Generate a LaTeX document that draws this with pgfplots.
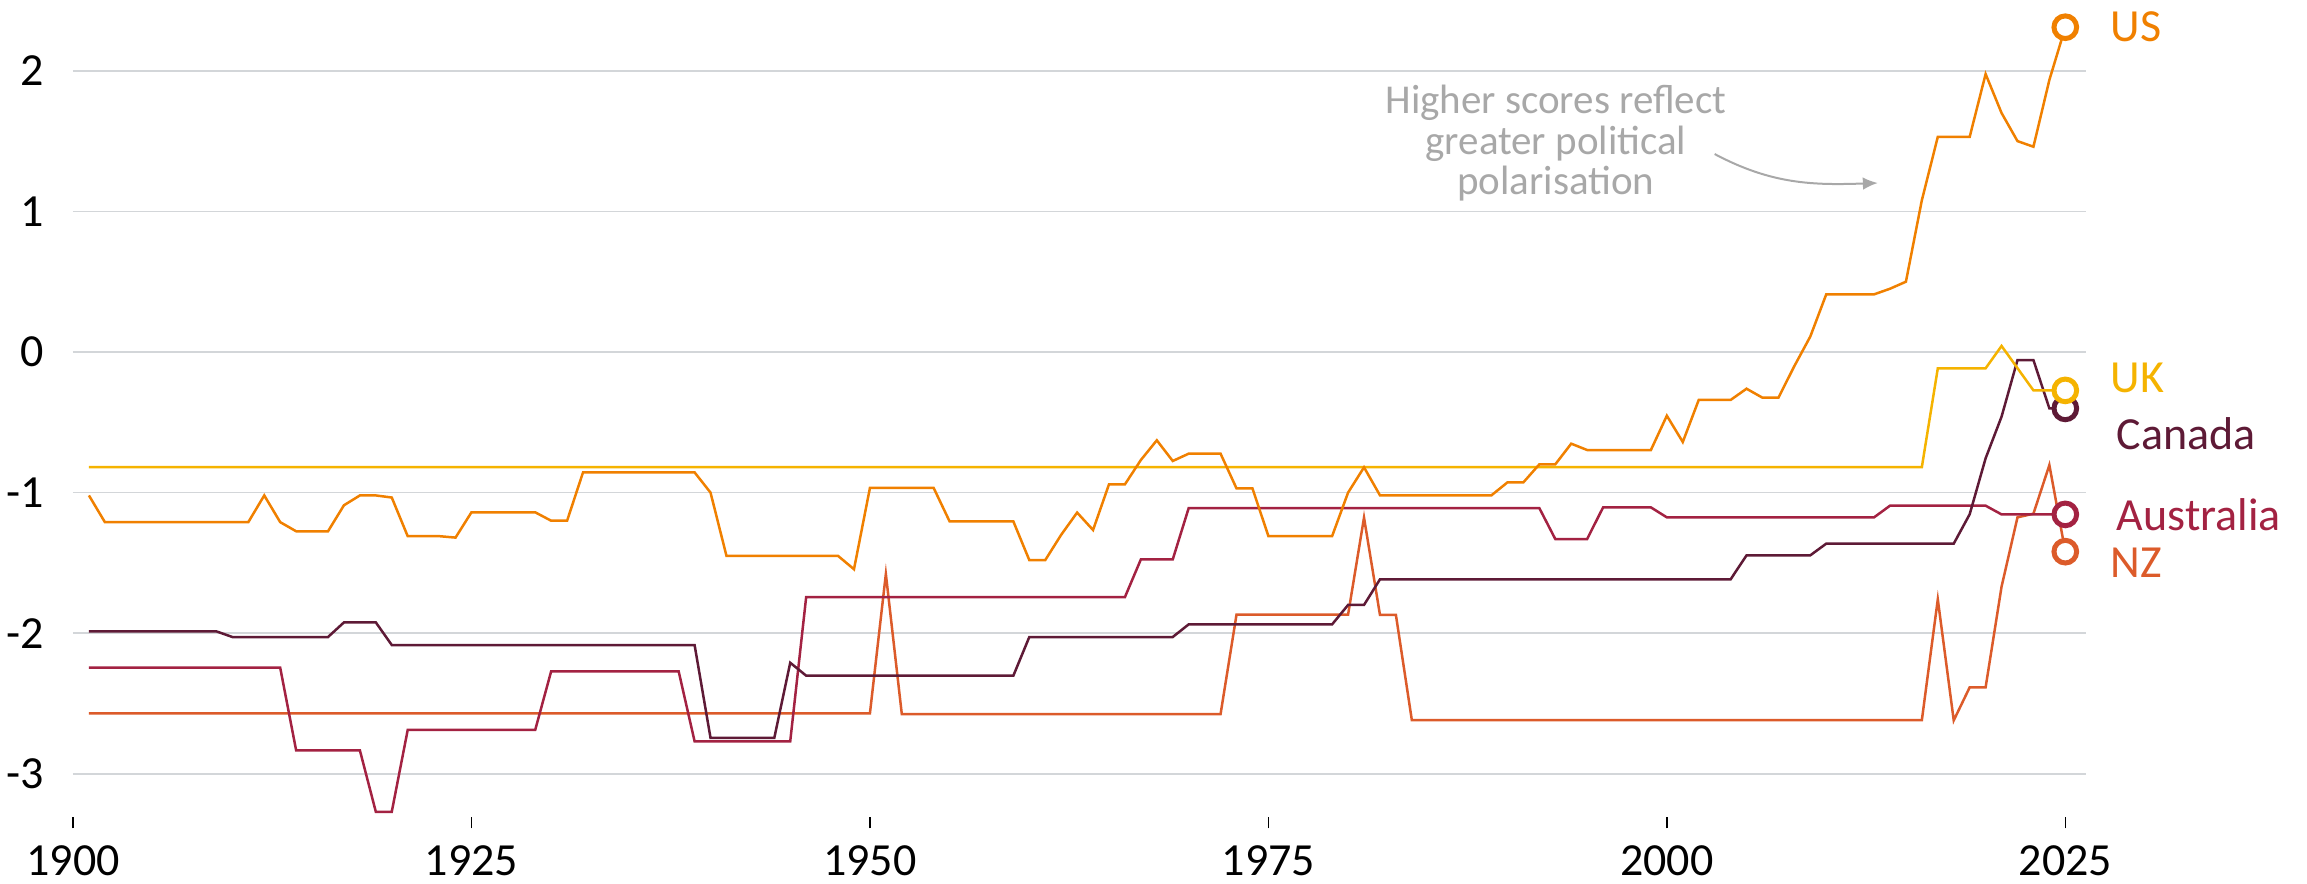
\documentclass[border=0pt]{standalone}
\usepackage{fontspec}
\setmainfont{Carlito}
\usepackage{pgfplots}
\pgfplotsset{compat=1.18}
\usepackage{pgfplotstable}
\usetikzlibrary{arrows.meta}

\definecolor{usc}{HTML}{F08000}
\definecolor{ukc}{HTML}{F5B300}
\definecolor{cac}{HTML}{5E1A36}
\definecolor{auc}{HTML}{A32242}
\definecolor{nzc}{HTML}{DC5B2A}
\definecolor{notec}{HTML}{A8A8A8}
\definecolor{gridc}{HTML}{D3D6D9}

% polarisation scores by year
\pgfplotstableread{
year us uk ca au nz
1901 -1.02 -0.818 -1.987 -2.245 -2.570
1902 -1.21 -0.818 -1.987 -2.245 -2.570
1903 -1.21 -0.818 -1.987 -2.245 -2.570
1904 -1.21 -0.818 -1.987 -2.245 -2.570
1905 -1.21 -0.818 -1.987 -2.245 -2.570
1906 -1.21 -0.818 -1.987 -2.245 -2.570
1907 -1.21 -0.818 -1.987 -2.245 -2.570
1908 -1.21 -0.818 -1.987 -2.245 -2.570
1909 -1.21 -0.818 -1.987 -2.245 -2.570
1910 -1.21 -0.818 -2.027 -2.245 -2.570
1911 -1.21 -0.818 -2.027 -2.245 -2.570
1912 -1.02 -0.818 -2.027 -2.245 -2.570
1913 -1.21 -0.818 -2.027 -2.245 -2.570
1914 -1.275 -0.818 -2.027 -2.833 -2.570
1915 -1.275 -0.818 -2.027 -2.833 -2.570
1916 -1.275 -0.818 -2.027 -2.833 -2.570
1917 -1.09 -0.818 -1.923 -2.833 -2.570
1918 -1.02 -0.818 -1.923 -2.833 -2.570
1919 -1.02 -0.818 -1.923 -3.27 -2.570
1920 -1.035 -0.818 -2.084 -3.27 -2.570
1921 -1.31 -0.818 -2.084 -2.688 -2.570
1922 -1.31 -0.818 -2.084 -2.688 -2.570
1923 -1.31 -0.818 -2.084 -2.688 -2.570
1924 -1.32 -0.818 -2.084 -2.688 -2.570
1925 -1.14 -0.818 -2.084 -2.688 -2.570
1926 -1.14 -0.818 -2.084 -2.688 -2.570
1927 -1.14 -0.818 -2.084 -2.688 -2.570
1928 -1.14 -0.818 -2.084 -2.688 -2.570
1929 -1.14 -0.818 -2.084 -2.688 -2.570
1930 -1.20 -0.818 -2.084 -2.271 -2.570
1931 -1.20 -0.818 -2.084 -2.271 -2.570
1932 -0.856 -0.818 -2.084 -2.271 -2.570
1933 -0.856 -0.818 -2.084 -2.271 -2.570
1934 -0.856 -0.818 -2.084 -2.271 -2.570
1935 -0.856 -0.818 -2.084 -2.271 -2.570
1936 -0.856 -0.818 -2.084 -2.271 -2.570
1937 -0.856 -0.818 -2.084 -2.271 -2.570
1938 -0.856 -0.818 -2.084 -2.271 -2.570
1939 -0.856 -0.818 -2.084 -2.769 -2.570
1940 -1.00 -0.818 -2.745 -2.769 -2.570
1941 -1.45 -0.818 -2.745 -2.769 -2.570
1942 -1.45 -0.818 -2.745 -2.769 -2.570
1943 -1.45 -0.818 -2.745 -2.769 -2.570
1944 -1.45 -0.818 -2.745 -2.769 -2.570
1945 -1.45 -0.818 -2.210 -2.769 -2.570
1946 -1.45 -0.818 -2.302 -1.743 -2.570
1947 -1.45 -0.818 -2.302 -1.743 -2.570
1948 -1.45 -0.818 -2.302 -1.743 -2.570
1949 -1.545 -0.818 -2.302 -1.743 -2.570
1950 -0.967 -0.818 -2.302 -1.743 -2.570
1951 -0.967 -0.818 -2.302 -1.743 -1.579
1952 -0.967 -0.818 -2.302 -1.743 -2.575
1953 -0.967 -0.818 -2.302 -1.743 -2.575
1954 -0.967 -0.818 -2.302 -1.743 -2.575
1955 -1.205 -0.818 -2.302 -1.743 -2.575
1956 -1.205 -0.818 -2.302 -1.743 -2.575
1957 -1.205 -0.818 -2.302 -1.743 -2.575
1958 -1.205 -0.818 -2.302 -1.743 -2.575
1959 -1.205 -0.818 -2.302 -1.743 -2.575
1960 -1.48 -0.818 -2.027 -1.743 -2.575
1961 -1.48 -0.818 -2.027 -1.743 -2.575
1962 -1.30 -0.818 -2.027 -1.743 -2.575
1963 -1.142 -0.818 -2.027 -1.743 -2.575
1964 -1.266 -0.818 -2.027 -1.743 -2.575
1965 -0.941 -0.818 -2.027 -1.743 -2.575
1966 -0.941 -0.818 -2.027 -1.743 -2.575
1967 -0.768 -0.818 -2.027 -1.475 -2.575
1968 -0.628 -0.818 -2.027 -1.475 -2.575
1969 -0.775 -0.818 -2.027 -1.475 -2.575
1970 -0.723 -0.818 -1.937 -1.110 -2.575
1971 -0.723 -0.818 -1.937 -1.110 -2.575
1972 -0.723 -0.818 -1.937 -1.110 -2.575
1973 -0.970 -0.818 -1.937 -1.110 -1.868
1974 -0.970 -0.818 -1.937 -1.110 -1.868
1975 -1.309 -0.818 -1.937 -1.110 -1.868
1976 -1.309 -0.818 -1.937 -1.110 -1.868
1977 -1.309 -0.818 -1.937 -1.110 -1.868
1978 -1.309 -0.818 -1.937 -1.110 -1.868
1979 -1.309 -0.818 -1.937 -1.110 -1.868
1980 -1.00 -0.818 -1.799 -1.110 -1.868
1981 -0.82 -0.818 -1.799 -1.110 -1.178
1982 -1.019 -0.818 -1.617 -1.110 -1.869
1983 -1.019 -0.818 -1.617 -1.110 -1.869
1984 -1.019 -0.818 -1.617 -1.110 -2.618
1985 -1.019 -0.818 -1.617 -1.110 -2.618
1986 -1.019 -0.818 -1.617 -1.110 -2.618
1987 -1.019 -0.818 -1.617 -1.110 -2.618
1988 -1.019 -0.818 -1.617 -1.110 -2.618
1989 -1.019 -0.818 -1.617 -1.110 -2.618
1990 -0.927 -0.818 -1.617 -1.110 -2.618
1991 -0.927 -0.818 -1.617 -1.110 -2.618
1992 -0.799 -0.818 -1.617 -1.110 -2.618
1993 -0.799 -0.818 -1.617 -1.330 -2.618
1994 -0.652 -0.818 -1.617 -1.330 -2.618
1995 -0.697 -0.818 -1.617 -1.330 -2.618
1996 -0.697 -0.818 -1.617 -1.105 -2.618
1997 -0.697 -0.818 -1.617 -1.105 -2.618
1998 -0.697 -0.818 -1.617 -1.105 -2.618
1999 -0.697 -0.818 -1.617 -1.105 -2.618
2000 -0.453 -0.818 -1.617 -1.176 -2.618
2001 -0.640 -0.818 -1.617 -1.176 -2.618
2002 -0.341 -0.818 -1.617 -1.176 -2.618
2003 -0.341 -0.818 -1.617 -1.176 -2.618
2004 -0.341 -0.818 -1.617 -1.176 -2.618
2005 -0.261 -0.818 -1.446 -1.176 -2.618
2006 -0.325 -0.818 -1.446 -1.176 -2.618
2007 -0.325 -0.818 -1.446 -1.176 -2.618
2008 -0.10 -0.818 -1.446 -1.176 -2.618
2009 0.11 -0.818 -1.446 -1.176 -2.618
2010 0.41 -0.818 -1.363 -1.176 -2.618
2011 0.41 -0.818 -1.363 -1.176 -2.618
2012 0.41 -0.818 -1.363 -1.176 -2.618
2013 0.41 -0.818 -1.363 -1.176 -2.618
2014 0.45 -0.818 -1.363 -1.093 -2.618
2015 0.50 -0.818 -1.363 -1.093 -2.618
2016 1.08 -0.818 -1.363 -1.093 -2.618
2017 1.53 -0.116 -1.363 -1.093 -1.759
2018 1.53 -0.116 -1.363 -1.093 -2.620
2019 1.53 -0.116 -1.154 -1.093 -2.385
2020 1.977 -0.116 -0.756 -1.093 -2.385
2021 1.70 0.043 -0.460 -1.155 -1.669
2022 1.50 -0.115 -0.057 -1.155 -1.176
2023 1.46 -0.273 -0.057 -1.155 -1.150
2024 1.935 -0.273 -0.401 -1.155 -0.804
2025 2.31 -0.273 -0.401 -1.155 -1.420
}\scores

\begin{document}
\begin{tikzpicture}
\useasboundingbox (0,0) rectangle (692.1pt,264.9pt);
\begin{axis}[
  at={(21.9pt,19.68pt)}, anchor=south west,
  scale only axis, width=603.9pt, height=245.07pt,
  xmin=1900, xmax=2026.3, ymin=-3.31, ymax=2.5,
  clip=false,
  axis line style={draw=none},
  xtick={1900,1925,...,2025},
  xticklabels={1900,1925,1950,1975,2000,2025},
  ytick={-3,-2,-1,0,1,2},
  yticklabels={-3,-2,-1,0,1,2},
  xtick pos=bottom, ytick pos=left,
  tick align=outside, major tick length=3.3pt,
  xtick style={black, line width=0.45pt},
  ytick style={draw=none},
  ymajorgrids, grid style={gridc, line width=0.45pt},
  tick label style={font=\fontsize{13.8}{16}\selectfont, text=black},
  xticklabel style={yshift=-1.7pt},
  yticklabel style={xshift=-2pt},
  every axis plot/.append style={line width=0.75pt, mark=none},
]
\addplot[nzc] table[x=year, y=nz] {\scores};
\addplot[auc] table[x=year, y=au] {\scores};
\addplot[cac] table[x=year, y=ca] {\scores};
\addplot[ukc] table[x=year, y=uk] {\scores};
\addplot[usc] table[x=year, y=us] {\scores};

% end-point rings
\addplot[only marks, mark=*, mark size=3.4pt, mark options={draw=nzc, fill=white, line width=1.5pt}] coordinates {(2025,-1.420)};
\addplot[only marks, mark=*, mark size=3.4pt, mark options={draw=auc, fill=white, line width=1.5pt}] coordinates {(2025,-1.155)};
\addplot[only marks, mark=*, mark size=3.4pt, mark options={draw=cac, fill=white, line width=1.5pt}] coordinates {(2025,-0.401)};
\addplot[only marks, mark=*, mark size=3.4pt, mark options={draw=ukc, fill=white, line width=1.5pt}] coordinates {(2025,-0.273)};
\addplot[only marks, mark=*, mark size=3.4pt, mark options={draw=usc, fill=white, line width=1.5pt}] coordinates {(2025,2.31)};

% series names
\begin{scope}[every node/.style={anchor=west, inner sep=0pt, font=\fontsize{13.8}{16}\selectfont}]
\node[text=usc] at (axis cs:2027.8,2.311) {US};
\node[text=ukc] at (axis cs:2027.8,-0.185) {UK};
\node[text=cac] at (axis cs:2028.2,-0.580) {Canada};
\node[text=auc] at (axis cs:2028.2,-1.159) {Australia};
\node[text=nzc] at (axis cs:2027.8,-1.501) {NZ};
\end{scope}

% annotation
\begin{scope}[every node/.style={anchor=base, inner sep=0pt, text=notec, font=\fontsize{12.3}{14}\selectfont}]
\node at (axis cs:1993.04,1.698) {Higher scores reflect};
\node at (axis cs:1993.04,1.406) {greater political};
\node at (axis cs:1993.04,1.117) {polarisation};
\end{scope}
\draw[notec, line width=0.6pt, -{Latex[length=4.5pt,width=3.8pt]}]
  (axis cs:2003.0,1.408) to[out=-28,in=182] (axis cs:2013.24,1.202);
\end{axis}
\end{tikzpicture}
\end{document}
